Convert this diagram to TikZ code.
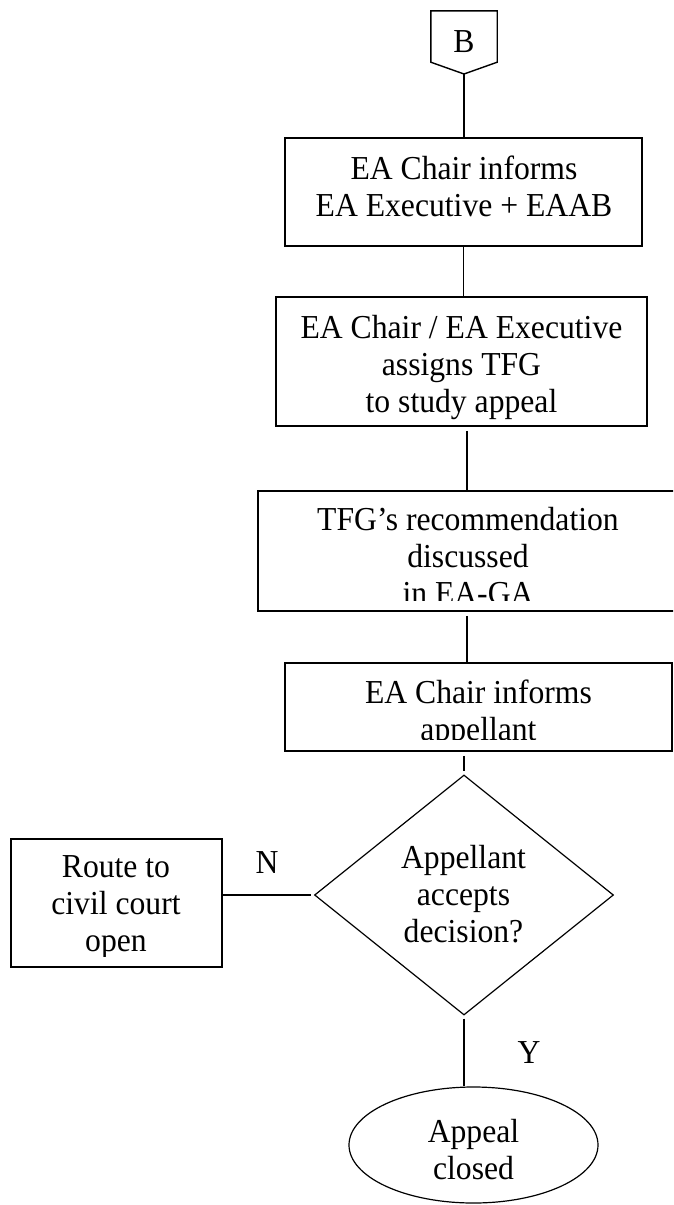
\documentclass[tikz,border=0pt]{standalone}
\usepackage{fontspec}
\setmainfont{Liberation Serif}[FakeStretch=0.945]
\usetikzlibrary{shapes.geometric,calc}
\tikzset{
  boxshape/.style={draw, rectangle, line width=1.6pt, inner sep=0pt},
  plainshape/.style={draw, line width=1.2pt, inner sep=0pt},
  conn/.style={line width=1.2pt},
  txt/.style={font=\fontsize{33.5}{36.8}\selectfont, align=center, inner sep=0pt, anchor=north},
  lbl/.style={font=\fontsize{33.5}{36.8}\selectfont, inner sep=0pt, anchor=base},
}
\begin{document}
\begin{tikzpicture}[x=1pt,y=-1pt]
\clip (0,0) rectangle (673,1205);
\fill[white] (0,0) rectangle (673,1205);

% off-page connector B
\node[inner sep=0pt, minimum width=66pt, minimum height=51pt] (B) at (464,36.5) {};
\coordinate (tip) at (464,74);
\draw[line width=1.4pt, line join=miter] (B.north west) -- (B.north east) -- (B.south east) -- (tip) -- (B.south west) -- cycle;
\node[lbl] (tB) at (464,52) {B};

% boxes
\node[boxshape, minimum width=357pt, minimum height=108pt] (b1) at (463.5,192) {};
\node[txt] (t1) at (464,156) {EA Chair informs\\EA Executive + EAAB};

\node[boxshape, minimum width=371pt, minimum height=129pt] (b2) at (461.5,361.5) {};
\node[txt] (t2) at (461.5,315.5) {EA Chair / EA Executive\\assigns TFG\\to study appeal};

\node[boxshape, minimum width=418pt, minimum height=120pt] (b3) at (467,551) {};
\begin{scope}
  \clip (258,491) rectangle (676,600);
  \node[txt] (t3) at (468,507.5) {TFG’s recommendation\\discussed\\in EA-GA};
\end{scope}

\node[boxshape, minimum width=387pt, minimum height=88pt] (b4) at (478.5,707) {};
\begin{scope}
  \clip (285,663) rectangle (672,739);
  \node[txt] (t4) at (478.5,679.5) {EA Chair informs\\appellant};
\end{scope}

% decision
\node[plainshape, diamond, minimum width=299pt, minimum height=240pt] (d) at (464,895) {};
\node[txt] (td) at (463.5,845.5) {Appellant\\accepts\\decision?};

% route box
\node[boxshape, minimum width=211pt, minimum height=128pt] (r) at (116.5,903) {};
\begin{scope}
  \clip (11,839) rectangle (222,956);
  \node[txt] (tr) at (116,855.5) {Route to\\civil court\\open};
\end{scope}

% terminal
\node[plainshape, ellipse, minimum width=249pt, minimum height=116pt] (e) at (473.5,1145) {};
\node[txt] (te) at (473.5,1119.5) {Appeal\\closed};

% labels
\node[lbl] (lN) at (267,873) {N};
\node[lbl] (lY) at (529,1063) {Y};

% connectors
\draw[conn] (tip) -- (tip |- b1.north);
\draw[conn] (b1.south) -- (b1.south |- b2.north);
\draw[conn, shorten <=4pt] (b3.north |- b2.south) -- (b3.north);
\draw[conn, shorten <=4pt] (b3.south) -- (b3.south |- b4.north);
\draw[conn, shorten <=4pt, shorten >=3pt] (d.north |- b4.south) -- (d.north);
\draw[conn, shorten <=3pt] (d.west) -- (d.west -| r.east);
\draw[conn, shorten <=3pt] (d.south) -- (d.south |- e.north);
\end{tikzpicture}
\end{document}
